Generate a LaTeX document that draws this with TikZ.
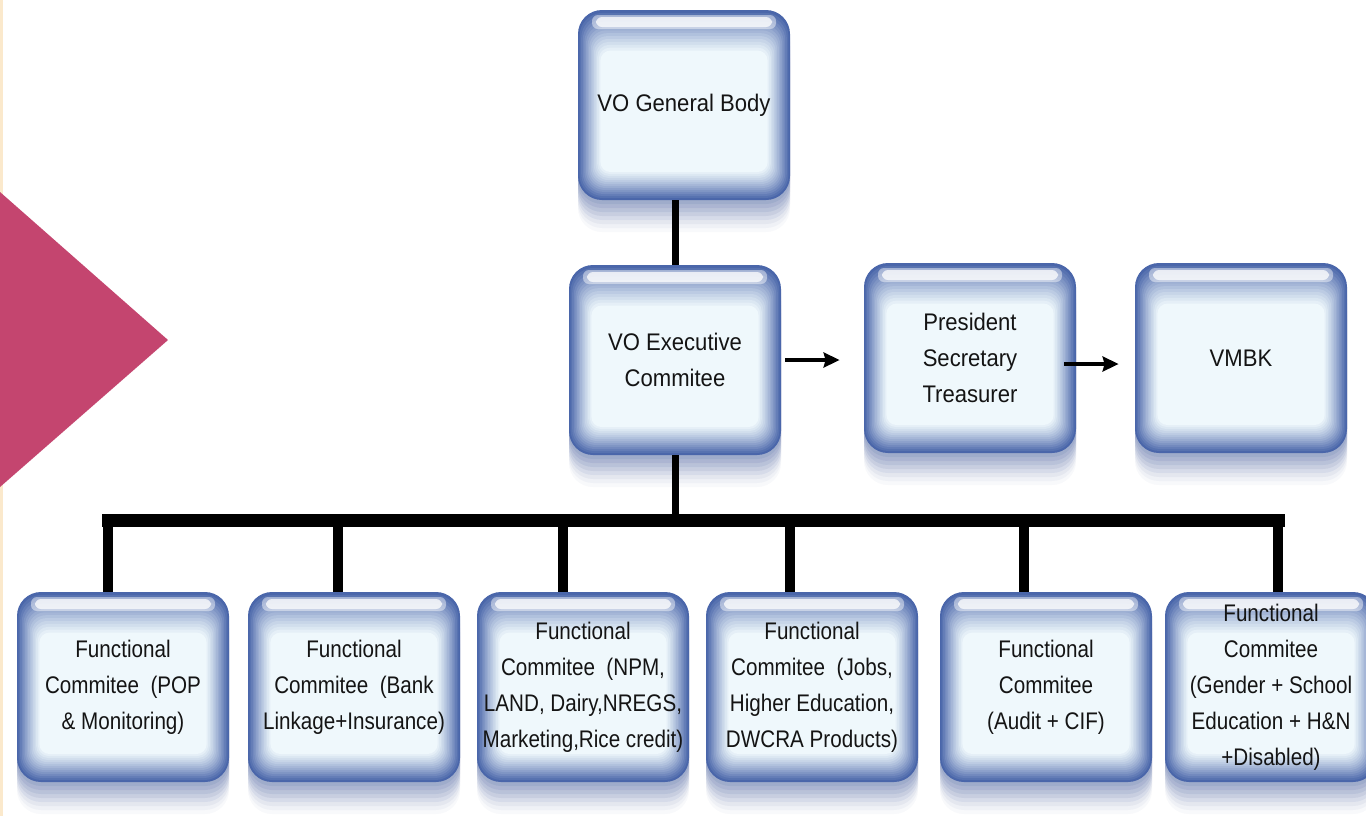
\documentclass[tikz,border=0pt]{standalone}
\usepackage{fontspec}
\setmainfont{Liberation Sans}[FakeStretch=0.92]
\newfontfamily\narr{Liberation Sans}[FakeStretch=0.86]
\usetikzlibrary{arrows.meta,calc}
\definecolor{pinkc}{HTML}{C4456F}
\definecolor{edgeb}{HTML}{4A66AA}
\definecolor{glassc}{HTML}{EFF8FC}
\definecolor{shadc}{HTML}{566CA6}
\definecolor{txtc}{HTML}{141414}
\definecolor{rimc}{HTML}{FBE9CC}
\tikzset{
  gbox/.style={rectangle, rounded corners=12pt, minimum width=106pt, minimum height=95pt,
    inner sep=0pt, align=center, text=txtc, fill=edgeb,
    font=\fontsize{12}{18}\selectfont,
    preaction={fill=shadc, opacity=0.13, transform canvas={yshift=-2pt}},
    preaction={fill=shadc, opacity=0.13, transform canvas={yshift=-4pt}},
    preaction={fill=shadc, opacity=0.12, transform canvas={yshift=-6pt}},
    preaction={fill=shadc, opacity=0.11, transform canvas={yshift=-8pt}},
    preaction={fill=shadc, opacity=0.09, transform canvas={yshift=-10pt}},
    preaction={fill=shadc, opacity=0.07, transform canvas={yshift=-12pt}},
    preaction={fill=shadc, opacity=0.05, transform canvas={yshift=-14pt}},
    preaction={fill=shadc, opacity=0.04, transform canvas={yshift=-16pt}},
    path picture={
      \foreach \i/\p in {1/92,2/84,3/76,4/68,5/60,6/52,7/45,8/38,9/31,10/24,11/18,12/12,13/6,14/0}{
        \pgfmathsetmacro\rr{max(12-\i*0.5,4)}
        \fill[edgeb!\p!glassc, rounded corners=\rr pt]
          ([shift={(\i*0.8pt,-\i*1.45pt)}]path picture bounding box.north west) rectangle
          ([shift={(-\i*0.8pt,\i*1.0pt)}]path picture bounding box.south east);
      }
      \fill[white, opacity=0.45, rounded corners=3pt]
        ([shift={(7pt,-2.5pt)}]path picture bounding box.north west) rectangle
        ([shift={(-7pt,-9.5pt)}]path picture bounding box.north east);
      \fill[white, opacity=0.75, rounded corners=3pt]
        ([shift={(9pt,-3.5pt)}]path picture bounding box.north west) rectangle
        ([shift={(-9pt,-8.5pt)}]path picture bounding box.north east);
    }},
  nbox/.style={gbox, font=\narr\fontsize{12}{18}\selectfont},
  trunk/.style={line width=3.5pt, black},
  busline/.style={line width=6.5pt, black, line cap=rect},
  drop/.style={line width=5pt, black},
  arr/.style={line width=1.6pt, black, -{Stealth[length=8pt,width=7.5pt,inset=1pt]}}
}
\begin{document}
\begin{tikzpicture}[x=0.5pt,y=-0.5pt]
\useasboundingbox (0,0) rectangle (1366,816);
\fill[white] (0,0) rectangle (1366,816);
\fill[rimc] (0,0) rectangle (2.5,816);
\fill[pinkc] (0,192) -- (168,340) -- (0,487) -- cycle;

% nodes
\node[gbox] (gb) at (684,105) {VO General Body};
\node[gbox] (ex) at (675,360) {VO Executive\\Commitee};
\node[gbox] (pst) at (970,358) {President\\Secretary\\Treasurer};
\node[gbox] (vm) at (1241,358) {VMBK};

\node[nbox] (f1) at (123,687) {Functional\\Commitee\ \ (POP\\\& Monitoring)};
\node[nbox] (f2) at (354,687) {Functional\\Commitee\ \ (Bank\\Linkage+Insurance)};
\node[nbox] (f3) at (583,687) {Functional\\Commitee\ \ (NPM,\\LAND, Dairy,NREGS,\\Marketing,Rice credit)};
\node[nbox] (f4) at (812,687) {Functional\\Commitee\ \ (Jobs,\\Higher Education,\\DWCRA Products)};
\node[nbox] (f5) at (1046,687) {Functional\\Commitee\\(Audit + CIF)};
\node[nbox] (f6) at (1271,687) {Functional\\Commitee\\(Gender + School\\Education + H\&N\\+Disabled)};

% bus coordinates
\coordinate (d1) at (108,520);
\coordinate (d2) at (338,520);
\coordinate (d3) at (563,520);
\coordinate (d4) at (790,520);
\coordinate (d5) at (1024,520);
\coordinate (d6) at (1278,520);

% connectors
\draw[trunk] (ex.north) -- (ex.north |- gb.south);
\draw[trunk] (ex.south) -- (ex.south |- d1);
\draw[busline] (d1) -- (d6);
\foreach \k in {1,...,6}{\draw[drop] (d\k) -- (d\k |- f\k.north);}
\draw[arr] ([xshift=2pt]ex.east) -- ([xshift=-12pt]ex.east -| pst.west);
\draw[arr] ([xshift=-6pt,yshift=-3pt]pst.east) -- ([xshift=-8pt,yshift=-3pt]pst.east -| vm.west);
\end{tikzpicture}
\end{document}
